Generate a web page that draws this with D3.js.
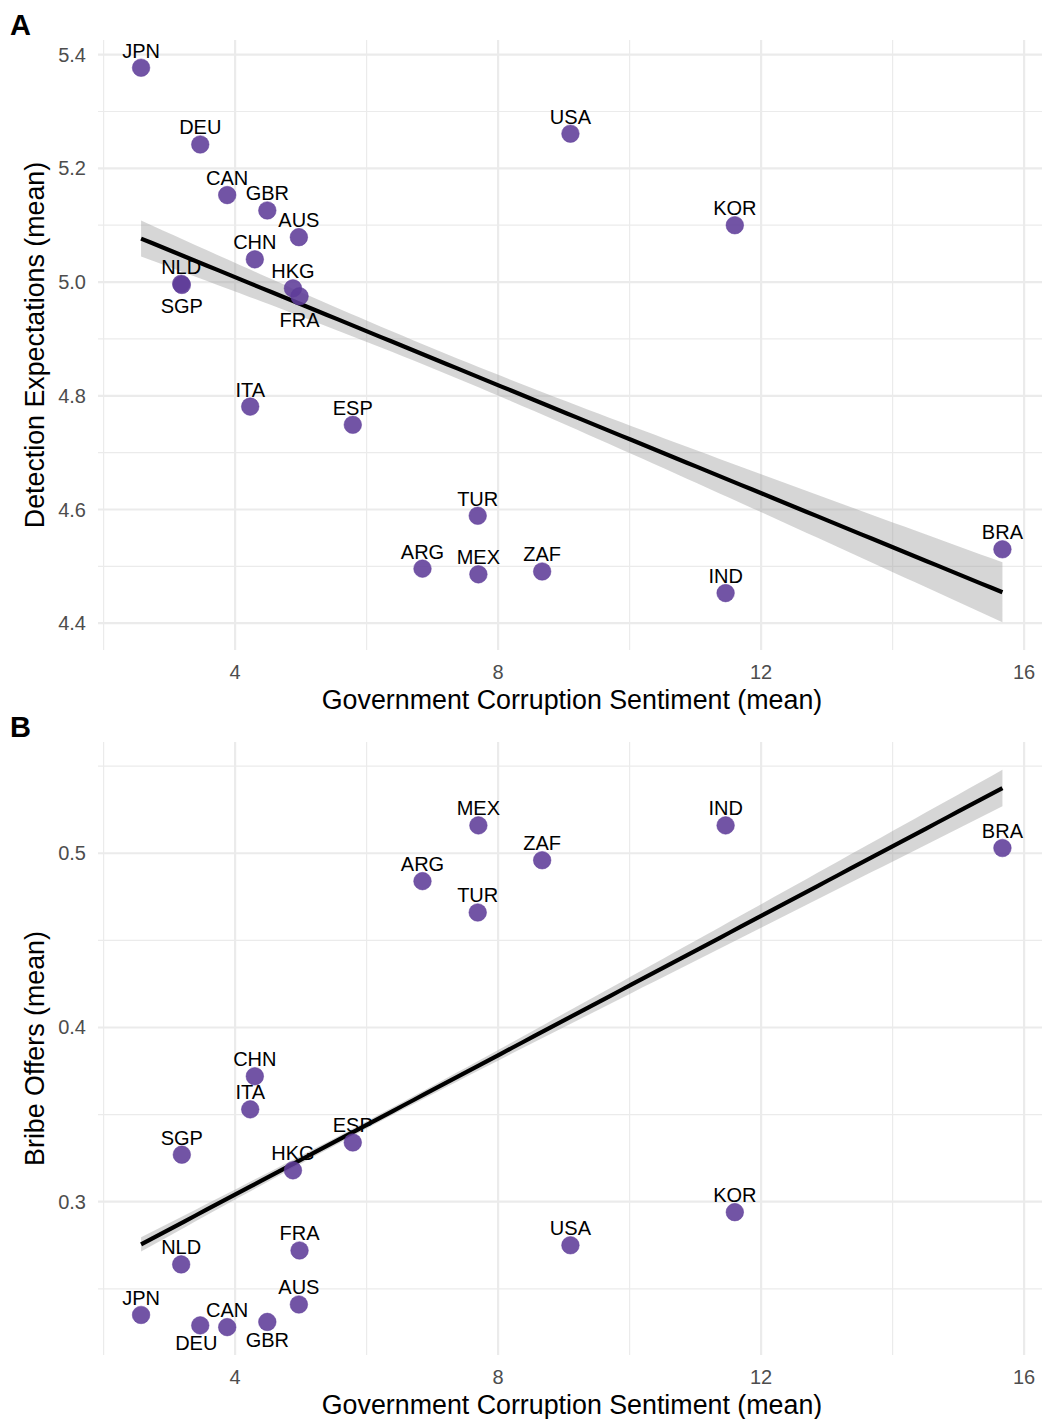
<!DOCTYPE html>
<html>
<head>
<meta charset="utf-8">
<script src="https://cdn.jsdelivr.net/npm/d3@7"></script>
<style>
  body { margin: 0; background: #fff; }
  text { font-family: "Liberation Sans", Arial, sans-serif; }
</style>
</head>
<body>
<div id="chart"></div>
<script>
// country codes
var countries = ['JPN', 'DEU', 'CAN', 'GBR', 'AUS', 'CHN', 'NLD', 'SGP', 'HKG', 'FRA',
                 'ITA', 'ESP', 'TUR', 'ARG', 'MEX', 'ZAF', 'USA', 'KOR', 'IND', 'BRA'];
// Government corruption sentiment (mean)
var corruption = [2.57, 3.47, 3.88, 4.49, 4.97, 4.30, 3.18, 3.19, 4.88, 4.98,
                  4.23, 5.79, 7.69, 6.85, 7.70, 8.67, 9.10, 11.60, 11.46, 15.67];
// Detection expectations (mean)
var detection = [5.377, 5.242, 5.153, 5.126, 5.079, 5.040, 4.997, 4.995, 4.989, 4.975,
                 4.781, 4.749, 4.589, 4.496, 4.486, 4.491, 5.261, 5.100, 4.453, 4.530];
// Bribe offers (mean)
var bribe = [0.235, 0.229, 0.228, 0.231, 0.241, 0.372, 0.264, 0.327, 0.318, 0.272,
             0.353, 0.334, 0.466, 0.484, 0.516, 0.496, 0.275, 0.294, 0.516, 0.503];

// linear fit: value at left end and at right end
var fitA = [5.0765, 4.4544];
var fitB = [0.2755, 0.5374];
// standard-error band: [centre x, half width at centre, growth per x unit]
var bandA = [7.1, 0.0176, 0.0058];
var bandB = [5.9, 0.0021, 0.00105];

var xTicks = [4, 8, 12, 16];
var yTicksA = [4.4, 4.6, 4.8, 5.0, 5.2, 5.4];
var yTicksB = [0.3, 0.4, 0.5];

// label nudges (layout only): [dx, dy of label centre]
var nudgeA = { SGP: [0, 21], FRA: [0, 24] };
var nudgeB = { DEU: [-4, 18], GBR: [0, 18] };

var width = 1042, height = 1419;
var pointColor = '#5e3c99';

var svg = d3.select('#chart')
    .append('svg')
    .attr('width', width)
    .attr('height', height);

function smooth(fit, band) {
    var lo = d3.min(corruption), hi = d3.max(corruption);
    var slope = (fit[1] - fit[0]) / (hi - lo);
    return d3.range(80).map(function (k) {
        var x = lo + (hi - lo) * k / 79,
            f = fit[0] + slope * (x - lo),
            dx = x - band[0],
            hw = Math.sqrt(band[1] * band[1] + band[2] * band[2] * dx * dx);
        return { x: x, y: f, lo: f - hw, hi: f + hw };
    });
}

function expand(ext) {
    var d = (ext[1] - ext[0]) * 0.05;
    return [ext[0] - d, ext[1] + d];
}

function panel(opts) {
    var top = opts.top, bottom = opts.bottom,
        left = 98, right = 1045.5;
    var ys = opts.ys;
    var fit = smooth(opts.fit, opts.band);

    var x = d3.scaleLinear()
        .domain(expand(d3.extent(corruption)))
        .range([left, right]);
    var yExt = [Math.min(d3.min(ys), d3.min(fit, function (d) { return d.lo; })),
                Math.max(d3.max(ys), d3.max(fit, function (d) { return d.hi; }))];
    var y = d3.scaleLinear()
        .domain(expand(yExt))
        .range([bottom, top]);

    var g = svg.append('g');

    // minor grid
    var xMinor = [2, 6, 10, 14];
    g.selectAll('.xminor').data(xMinor).enter().append('line')
        .attr('x1', function (d) { return x(d); })
        .attr('x2', function (d) { return x(d); })
        .attr('y1', top).attr('y2', bottom)
        .attr('stroke', '#ebebeb').attr('stroke-width', 1.2);
    g.selectAll('.yminor').data(opts.yMinor).enter().append('line')
        .attr('x1', left).attr('x2', right)
        .attr('y1', function (d) { return y(d); })
        .attr('y2', function (d) { return y(d); })
        .attr('stroke', '#ebebeb').attr('stroke-width', 1.2);
    // major grid
    g.selectAll('.xmajor').data(xTicks).enter().append('line')
        .attr('x1', function (d) { return x(d); })
        .attr('x2', function (d) { return x(d); })
        .attr('y1', top).attr('y2', bottom)
        .attr('stroke', '#ebebeb').attr('stroke-width', 2.2);
    g.selectAll('.ymajor').data(opts.yTicks).enter().append('line')
        .attr('x1', left).attr('x2', right)
        .attr('y1', function (d) { return y(d); })
        .attr('y2', function (d) { return y(d); })
        .attr('stroke', '#ebebeb').attr('stroke-width', 2.2);

    // tick labels
    g.selectAll('.xt').data(xTicks).enter().append('text')
        .attr('x', function (d) { return x(d); })
        .attr('y', bottom + 29)
        .attr('text-anchor', 'middle')
        .attr('font-size', 20)
        .attr('fill', '#4d4d4d')
        .text(function (d) { return d; });
    g.selectAll('.yt').data(opts.yTicks).enter().append('text')
        .attr('x', 86)
        .attr('y', function (d) { return y(d) + 7; })
        .attr('text-anchor', 'end')
        .attr('font-size', 20)
        .attr('fill', '#4d4d4d')
        .text(function (d) { return d.toFixed(1); });

    // axis titles
    g.append('text')
        .attr('x', 572)
        .attr('y', bottom + 59)
        .attr('text-anchor', 'middle')
        .attr('font-size', 26.8)
        .attr('fill', '#000')
        .text('Government Corruption Sentiment (mean)');
    g.append('text')
        .attr('transform', 'translate(44,' + ((top + bottom) / 2) + ') rotate(-90)')
        .attr('text-anchor', 'middle')
        .attr('font-size', 26.8)
        .attr('fill', '#000')
        .text(opts.yTitle);

    // confidence band + fit
    g.append('path')
        .datum(fit)
        .attr('fill', '#999999')
        .attr('fill-opacity', 0.4)
        .attr('d', d3.area()
            .x(function (d) { return x(d.x); })
            .y0(function (d) { return y(d.lo); })
            .y1(function (d) { return y(d.hi); }));
    g.append('path')
        .datum(fit)
        .attr('fill', 'none')
        .attr('stroke', '#000')
        .attr('stroke-width', 4.2)
        .attr('d', d3.line()
            .x(function (d) { return x(d.x); })
            .y(function (d) { return y(d.y); }));

    // points
    g.selectAll('.pt').data(countries).enter().append('circle')
        .attr('cx', function (d, i) { return x(corruption[i]); })
        .attr('cy', function (d, i) { return y(ys[i]); })
        .attr('r', 8.8)
        .attr('fill', pointColor)
        .attr('fill-opacity', 0.88)
        .attr('stroke', pointColor)
        .attr('stroke-opacity', 0.5)
        .attr('stroke-width', 1);

    // labels
    g.selectAll('.lab').data(countries).enter().append('text')
        .attr('x', function (d, i) {
            var n = opts.nudge[d] || [0, -17];
            return x(corruption[i]) + n[0];
        })
        .attr('y', function (d, i) {
            var n = opts.nudge[d] || [0, -17];
            return y(ys[i]) + n[1] + 7;
        })
        .attr('text-anchor', 'middle')
        .attr('font-size', 20)
        .attr('fill', '#000')
        .text(function (d) { return d; });

    // tag
    svg.append('text')
        .attr('x', 10)
        .attr('y', top - 5)
        .attr('font-size', 29)
        .attr('font-weight', 'bold')
        .attr('fill', '#000')
        .text(opts.tag);
}

panel({
    top: 40, bottom: 650, ys: detection, yTicks: yTicksA,
    yMinor: [4.5, 4.7, 4.9, 5.1, 5.3], fit: fitA, band: bandA,
    yTitle: 'Detection Expectations (mean)', nudge: nudgeA, tag: 'A'
});
panel({
    top: 742, bottom: 1355, ys: bribe, yTicks: yTicksB,
    yMinor: [0.25, 0.35, 0.45, 0.55], fit: fitB, band: bandB,
    yTitle: 'Bribe Offers (mean)', nudge: nudgeB, tag: 'B'
});
</script>
</body>
</html>
